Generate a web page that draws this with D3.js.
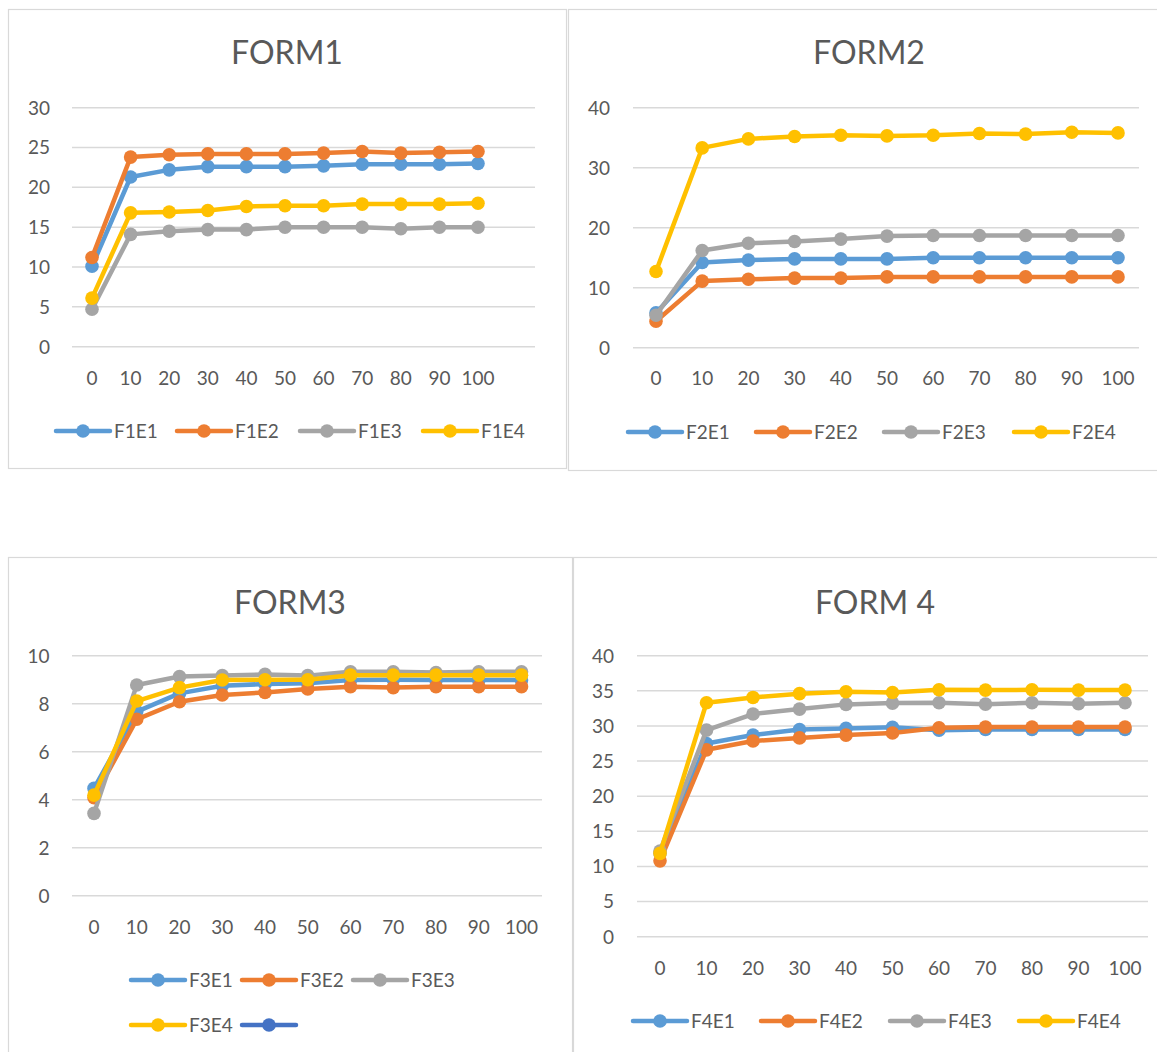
<!DOCTYPE html>
<html>
<head>
<meta charset="utf-8">
<script src="https://cdn.jsdelivr.net/npm/d3@7"></script>
<style>
  html, body { margin: 0; padding: 0; background: #ffffff; }
  svg { display: block; }
  text { font-family: Lato, "Open Sans", sans-serif; fill: #595959; }
</style>
</head>
<body>
<svg id="chart" width="1157" height="1052"></svg>
<script>
// ---------- DATA ----------
const categories = [0, 10, 20, 30, 40, 50, 60, 70, 80, 90, 100];

const f1Names = ["F1E1", "F1E2", "F1E3", "F1E4"];
const f1e1 = [10.1, 21.3, 22.2, 22.6, 22.6, 22.6, 22.7, 22.9, 22.9, 22.9, 23.0];
const f1e2 = [11.2, 23.8, 24.1, 24.2, 24.2, 24.2, 24.3, 24.5, 24.3, 24.4, 24.5];
const f1e3 = [4.7, 14.1, 14.5, 14.7, 14.7, 15.0, 15.0, 15.0, 14.8, 15.0, 15.0];
const f1e4 = [6.1, 16.8, 16.9, 17.1, 17.6, 17.7, 17.7, 17.9, 17.9, 17.9, 18.0];
const f1Ticks = [0, 5, 10, 15, 20, 25, 30];

const f2Names = ["F2E1", "F2E2", "F2E3", "F2E4"];
const f2e1 = [5.8, 14.2, 14.6, 14.8, 14.8, 14.8, 15.0, 15.0, 15.0, 15.0, 15.0];
const f2e2 = [4.4, 11.1, 11.4, 11.6, 11.6, 11.8, 11.8, 11.8, 11.8, 11.8, 11.8];
const f2e3 = [5.4, 16.2, 17.4, 17.7, 18.1, 18.6, 18.7, 18.7, 18.7, 18.7, 18.7];
const f2e4 = [12.7, 33.3, 34.8, 35.2, 35.4, 35.3, 35.4, 35.7, 35.6, 35.9, 35.8];
const f2Ticks = [0, 10, 20, 30, 40];

const f3Names = ["F3E1", "F3E2", "F3E3", "F3E4", ""];
const f3e1 = [4.47, 7.67, 8.43, 8.75, 8.82, 8.85, 8.99, 9.0, 8.99, 8.99, 8.99];
const f3e2 = [4.08, 7.35, 8.08, 8.36, 8.47, 8.61, 8.71, 8.67, 8.71, 8.71, 8.71];
const f3e3 = [3.43, 8.78, 9.13, 9.17, 9.22, 9.17, 9.33, 9.33, 9.3, 9.33, 9.33];
const f3e4 = [4.19, 8.11, 8.67, 8.99, 9.0, 9.0, 9.19, 9.19, 9.19, 9.19, 9.19];
const f3Ticks = [0, 2, 4, 6, 8, 10];

const f4Names = ["F4E1", "F4E2", "F4E3", "F4E4"];
const f4e1 = [11.9, 27.5, 28.7, 29.5, 29.65, 29.8, 29.4, 29.5, 29.5, 29.5, 29.5];
const f4e2 = [10.8, 26.6, 27.85, 28.3, 28.7, 29.0, 29.74, 29.84, 29.84, 29.84, 29.84];
const f4e3 = [12.2, 29.4, 31.7, 32.4, 33.07, 33.25, 33.3, 33.1, 33.3, 33.16, 33.3];
const f4e4 = [11.86, 33.3, 34.06, 34.6, 34.87, 34.77, 35.15, 35.1, 35.15, 35.1, 35.1];
const f4Ticks = [0, 5, 10, 15, 20, 25, 30, 35, 40];

const colors = ["#5B9BD5", "#ED7D31", "#A5A5A5", "#FFC000", "#4472C4"];

// ---------- LAYOUT ----------
const charts = [
  { title: "FORM1", names: f1Names, series: [f1e1, f1e2, f1e3, f1e4], ticks: f1Ticks,
    box: [8, 9, 558, 459], titleXY: [287, 52],
    yPix: [346.7, 107.7], gridX: [72, 535], xPix: [92, 478], yLabelX: 50, xLabelY: 378.3,
    legend: [{x: 83, y: 431}, {x: 204, y: 431}, {x: 327, y: 431}, {x: 450, y: 431}] },
  { title: "FORM2", names: f2Names, series: [f2e1, f2e2, f2e3, f2e4], ticks: f2Ticks,
    box: [568, 9, 600, 461], titleXY: [869, 52],
    yPix: [347.7, 107.7], gridX: [633, 1139], xPix: [656, 1118], yLabelX: 610, xLabelY: 378.3,
    legend: [{x: 655, y: 432}, {x: 783, y: 432}, {x: 911, y: 432}, {x: 1041, y: 432}] },
  { title: "FORM3", names: f3Names, series: [f3e1, f3e2, f3e3, f3e4, null], ticks: f3Ticks,
    box: [8, 557, 564, 520], titleXY: [290, 602],
    yPix: [895.7, 655.7], gridX: [72, 542], xPix: [94, 521.5], yLabelX: 49.5, xLabelY: 926.7,
    legend: [{x: 158, y: 980}, {x: 269, y: 980}, {x: 380, y: 980}, {x: 158, y: 1025}, {x: 269, y: 1025}] },
  { title: "FORM 4", names: f4Names, series: [f4e1, f4e2, f4e3, f4e4], ticks: f4Ticks,
    box: [573, 557, 600, 520], titleXY: [875, 602],
    yPix: [936.7, 655.7], gridX: [637, 1148], xPix: [660, 1125], yLabelX: 614, xLabelY: 968.3,
    legend: [{x: 660, y: 1021}, {x: 788, y: 1021}, {x: 917, y: 1021}, {x: 1046, y: 1021}] }
];

const svg = d3.select("#chart");

charts.forEach(c => {
  const g = svg.append("g");
  // border
  g.append("rect")
    .attr("x", c.box[0] + 0.5).attr("y", c.box[1] + 0.5)
    .attr("width", c.box[2]).attr("height", c.box[3])
    .attr("fill", "#fff").attr("stroke", "#D9D9D9").attr("stroke-width", 1.2);

  // title
  g.append("text")
    .attr("x", c.titleXY[0]).attr("y", c.titleXY[1])
    .attr("text-anchor", "middle").attr("dy", "0.36em")
    .style("font-size", "32px")
    .text(c.title);

  const x = d3.scalePoint().domain(categories).range(c.xPix);
  const yMax = d3.max(c.ticks);
  const y = d3.scaleLinear().domain([0, yMax]).range(c.yPix);

  // gridlines
  g.selectAll(".grid").data(c.ticks).enter().append("line")
    .attr("x1", c.gridX[0]).attr("x2", c.gridX[1])
    .attr("y1", d => y(d)).attr("y2", d => y(d))
    .attr("stroke", "#D9D9D9").attr("stroke-width", 1.5);

  // y labels
  g.selectAll(".ylab").data(c.ticks).enter().append("text")
    .attr("x", c.yLabelX).attr("y", d => y(d))
    .attr("text-anchor", "end").attr("dy", "0.36em")
    .style("font-size", "19px")
    .text(d => d);

  // x labels
  g.selectAll(".xlab").data(categories).enter().append("text")
    .attr("x", d => x(d)).attr("y", c.xLabelY)
    .attr("text-anchor", "middle").attr("dy", "0.36em")
    .style("font-size", "19px")
    .text(d => d);

  const line = d3.line().x((d, i) => x(categories[i])).y(d => y(d));

  c.series.forEach((s, si) => {
    if (!s) return;
    g.append("path").datum(s)
      .attr("d", line)
      .attr("fill", "none")
      .attr("stroke", colors[si])
      .attr("stroke-width", 4.5)
      .attr("stroke-linejoin", "round");
    g.selectAll(".m" + si).data(s).enter().append("circle")
      .attr("cx", (d, i) => x(categories[i]))
      .attr("cy", d => y(d))
      .attr("r", 6.8)
      .attr("fill", colors[si]);
  });

  // legend
  c.legend.forEach((L, li) => {
    g.append("line")
      .attr("x1", L.x - 27).attr("x2", L.x + 27)
      .attr("y1", L.y).attr("y2", L.y)
      .attr("stroke", colors[li]).attr("stroke-width", 4.5).attr("stroke-linecap", "round");
    g.append("circle").attr("cx", L.x).attr("cy", L.y).attr("r", 6.8).attr("fill", colors[li]);
    if (c.names[li]) {
      g.append("text")
        .attr("x", L.x + 31).attr("y", L.y).attr("dy", "0.36em")
        .style("font-size", "19px")
        .text(c.names[li]);
    }
  });
});
</script>
</body>
</html>
